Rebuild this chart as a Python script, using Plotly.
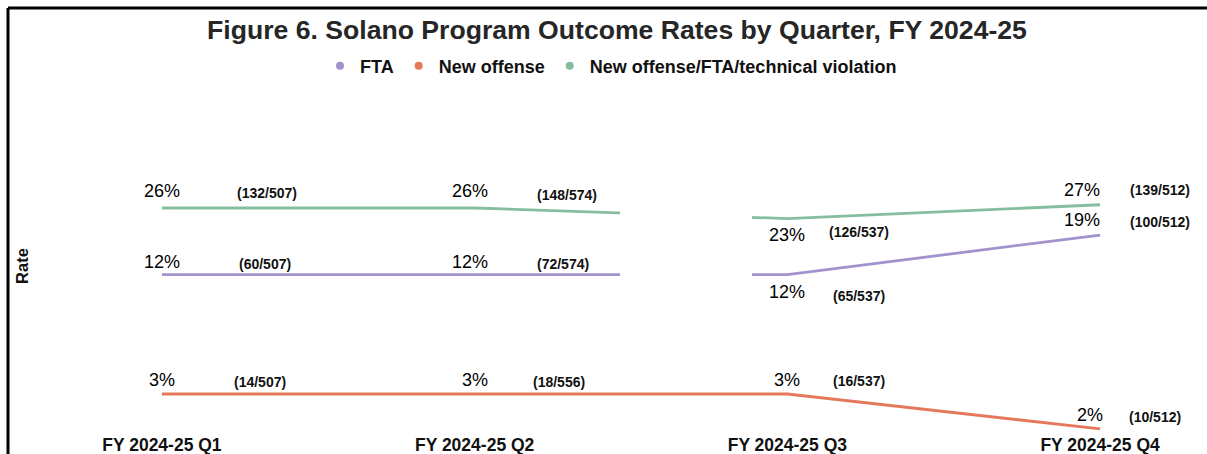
import math
import plotly.graph_objects as go

# ---------------- data ----------------
quarters = ["FY 2024-25 Q1", "FY 2024-25 Q2", "FY 2024-25 Q3", "FY 2024-25 Q4"]
series_names = ["FTA", "New offense", "New offense/FTA/technical violation"]

fta_rate = [0.12, 0.12, 0.12, 0.19]
fta_counts = ["(60/507)", "(72/574)", "(65/537)", "(100/512)"]

new_offense_rate = [0.03, 0.03, 0.03, 0.02]
new_offense_counts = ["(14/507)", "(18/556)", "(16/537)", "(10/512)"]

any_violation_rate = [0.26, 0.26, 0.23, 0.27]
any_violation_counts = ["(132/507)", "(148/574)", "(126/537)", "(139/512)"]

# ---------------- styles ----------------
colors = ["#a393cc", "#e5785b", "#86bd9f"]
FONT = "Liberation Sans, Arial, sans-serif"
W, H = 1207, 454
ML, MR, MT, MB = 60, 20, 100, 22

# label offsets in pixels: (pct_dx, pct_dy, count_dx, count_dy) per point
label_offsets = {
    "FTA": [(0, 13, 103, 11), (-5, 13, 88, 11), (0, -17, 72, -21), (-18, 15, 60, 13)],
    "New offense": [(0, 14, 98, 12), (0, 14, 84, 12), (0, 14, 72, 13), (-10, 14, 55, 12)],
    "New offense/FTA/technical violation": [(0, 17, 105, 15), (-5, 17, 92, 13), (0, -16, 72, -13), (-18, 15, 60, 15)],
}

series = [
    (series_names[0], fta_rate, fta_counts, colors[0]),
    (series_names[1], new_offense_rate, new_offense_counts, colors[1]),
    (series_names[2], any_violation_rate, any_violation_counts, colors[2]),
]

fig = go.Figure()
annotations = []
for name, rates, counts, color in series:
    fig.add_trace(go.Scatter(
        x=quarters, y=rates, mode="lines", name=name,
        line=dict(color=color, width=2.8), showlegend=False,
        hoverinfo="x+y",
    ))
    # legend entry as a dot
    fig.add_trace(go.Scatter(
        x=[None], y=[None], mode="markers", name=f"<b>{name}</b>",
        marker=dict(color=color, size=8), showlegend=True,
    ))
    for i, (q, r, c) in enumerate(zip(quarters, rates, counts)):
        pdx, pdy, cdx, cdy = label_offsets[name][i]
        annotations.append(dict(
            x=q, y=math.log10(r), xref="x", yref="y", text=f"{round(r * 100)}%",
            showarrow=False, xshift=pdx, yshift=pdy,
            font=dict(family=FONT, size=18, color="#000000"),
        ))
        annotations.append(dict(
            x=q, y=math.log10(r), xref="x", yref="y", text=f"<b>{c}</b>",
            showarrow=False, xshift=cdx, yshift=cdy,
            font=dict(family=FONT, size=14, color="#111111"),
        ))

plot_w = W - ML - MR
plot_h = H - MT - MB
frame_x = (8 - ML) / plot_w
frame_y = 1 + (MT - 8) / plot_h

fig.update_layout(
    width=W, height=H,
    margin=dict(l=ML, r=MR, t=MT, b=MB),
    paper_bgcolor="white", plot_bgcolor="white",
    title=dict(
        text="<b>Figure 6. Solano Program Outcome Rates by Quarter, FY 2024-25</b>",
        x=617 / W, xref="container", xanchor="center",
        y=1 - 30 / H, yref="container", yanchor="middle",
        font=dict(family=FONT, size=26.6, color="#262626"),
    ),
    legend=dict(
        orientation="h", x=611 / W, xref="container", xanchor="center",
        y=1 - 66 / H, yref="container", yanchor="middle",
        font=dict(family=FONT, size=18, color="#111111"),
        itemwidth=30, bgcolor="rgba(0,0,0,0)",
    ),
    font=dict(family=FONT),
    annotations=annotations,
    shapes=[
        # white mask that interrupts the upper two lines between Q2 and Q3
        dict(type="rect", xref="x", yref="paper", x0=1.465, x1=1.887, y0=0.43, y1=0.72,
             fillcolor="white", line=dict(width=0), layer="above"),
        # frame of the original figure (left and top edges)
        dict(type="line", xref="paper", yref="paper",
             x0=frame_x, x1=frame_x, y0=-0.2, y1=frame_y,
             line=dict(color="black", width=3), layer="above"),
        dict(type="line", xref="paper", yref="paper",
             x0=frame_x, x1=1 + MR / plot_w, y0=frame_y, y1=frame_y,
             line=dict(color="black", width=3), layer="above"),
    ],
)

fig.update_xaxes(
    type="category", range=[-0.326, 3.278],
    showgrid=False, zeroline=False, showline=False, ticks="",
    tickfont=dict(family=FONT, size=17.5, color="#111111"),
    tickprefix="<b>", ticksuffix="</b>",
    automargin=False,
)
fig.update_yaxes(
    type="log", range=[-1.7145, -0.0403],
    showgrid=False, zeroline=False, showline=False, showticklabels=False, ticks="",
    title=dict(text="<b>Rate</b>", standoff=26, font=dict(family=FONT, size=16.5, color="#111111")),
    automargin=False,
)

fig.write_html(
    "out.html",
    config={"displayModeBar": False},
    post_script="document.body.style.margin='0';document.body.style.overflow='hidden';",
)
